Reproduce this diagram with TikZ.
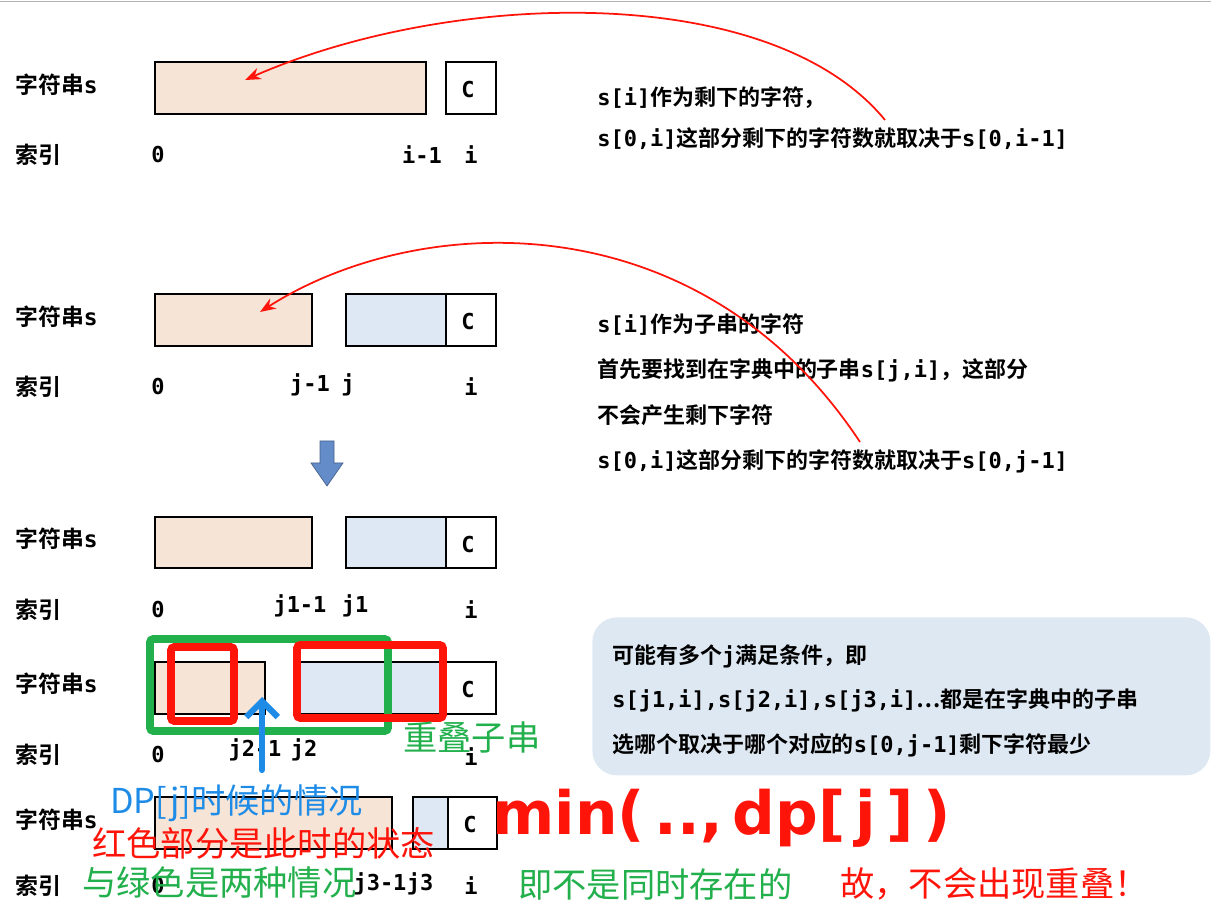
\documentclass[tikz,border=0pt]{standalone}
\usepackage{fontspec}
\setmainfont{Noto Sans CJK SC}[BoldFont={* Bold}]
\setmonofont{DejaVu Sans Mono}
\newfontfamily\handfont{DejaVu Sans}
\newcommand{\mo}[1]{{\ttfamily\bfseries #1}}
\usetikzlibrary{arrows.meta}
\definecolor{peach}{RGB}{246,228,214}
\definecolor{paleblue}{RGB}{222,232,244}
\definecolor{notebg}{RGB}{222,232,242}
\definecolor{hlred}{RGB}{255,20,10}
\definecolor{hlgreen}{RGB}{34,176,76}
\definecolor{hlblue}{RGB}{30,140,230}
\definecolor{arrowblue}{RGB}{100,140,200}
\tikzset{
  cell/.style={draw, line width=1.2pt},
  lbl/.style={font=\bfseries\fontsize{13}{15}\selectfont, anchor=west, inner sep=0pt},
  idx/.style={font=\ttfamily\bfseries\fontsize{12.5}{14}\selectfont, inner sep=0pt},
  note/.style={font=\bfseries\fontsize{12.5}{15}\selectfont, anchor=west, inner sep=0pt},
  remark/.style={font=\fontsize{19.5}{22}\selectfont, anchor=west, inner sep=0pt},
  callout/.style={draw=hlred, line width=1pt, -{Stealth[length=9pt]}},
}
\begin{document}
\begin{tikzpicture}[x=0.02cm, y=-0.02cm]
  \useasboundingbox (0,0) rectangle (1211,918);
  \draw[gray!60] (0,1) -- (1211,1);

  % row 1
  \node[lbl] (s1) at (15,85) {字符串\mo{s}};
  \node[lbl] (k1) at (15,155) {索引};
  \draw[cell, fill=peach] (155,62) rectangle (426,114);
  \draw[cell] (446,62) rectangle (496,114);
  \node[idx] (c1) at (468,90) {C};
  \node[idx] at (158,155) {0};
  \node[idx] at (422,155) {i-1};
  \node[idx] at (471,155) {i};
  \node[note] (t1a) at (597,98) {\mo{s[i]}作为剩下的字符，};
  \node[note] (t1b) at (597,139) {\mo{s[0,i]}这部分剩下的字符数就取决于\mo{s[0,i-1]}};
  \coordinate (a1s) at (885,120);
  \coordinate (a1e) at (245,80);
  \draw[callout] (a1s) .. controls (770,-20) and (450,-10) .. (a1e);

  % row 2
  \node[lbl] (s2) at (15,317) {字符串\mo{s}};
  \node[lbl] (k2) at (15,387) {索引};
  \draw[cell, fill=peach] (155,294) rectangle (312,346);
  \draw[cell, fill=paleblue] (346,294) rectangle (446,346);
  \draw[cell] (446,294) rectangle (496,346);
  \node[idx] at (468,322) {C};
  \node[idx] at (158,387) {0};
  \node[idx] at (310,385) {j-1};
  \node[idx] at (348,385) {j};
  \node[idx] at (471,387) {i};
  \node[note] at (597,325) {\mo{s[i]}作为子串的字符};
  \node[note] at (597,370) {首先要找到在字典中的子串\mo{s[j,i]}，这部分};
  \node[note] at (597,415) {不会产生剩下字符};
  \node[note] at (597,461) {\mo{s[0,i]}这部分剩下的字符数就取决于\mo{s[0,j-1]}};
  \coordinate (a2s) at (860,442);
  \coordinate (a2e) at (260,312);
  \draw[callout] (a2s) .. controls (700,200) and (420,210) .. (a2e);

  % down arrow
  \fill[arrowblue, draw=arrowblue!70!black] (320,441) -- (334,441) -- (334,463) -- (343,463)
    -- (327,486) -- (311,463) -- (320,463) -- cycle;

  % row 3
  \node[lbl] (s3) at (15,539) {字符串\mo{s}};
  \node[lbl] (k3) at (15,610) {索引};
  \draw[cell, fill=peach] (155,517) rectangle (312,568);
  \draw[cell, fill=paleblue] (346,517) rectangle (446,568);
  \draw[cell] (446,517) rectangle (496,568);
  \node[idx] at (468,545) {C};
  \node[idx] at (158,610) {0};
  \node[idx] at (300,606) {j1-1};
  \node[idx] at (355,606) {j1};
  \node[idx] at (471,610) {i};

  % row 4
  \node[lbl] (s4) at (15,684) {字符串\mo{s}};
  \node[lbl] (k4) at (15,755) {索引};
  \draw[cell, fill=peach] (155,662) rectangle (265,714);
  \draw[cell, fill=paleblue] (300,662) rectangle (446,714);
  \draw[cell] (446,662) rectangle (496,714);
  \node[idx] at (468,690) {C};
  \node[idx] at (158,755) {0};
  \node[idx] (j2m) at (255,750) {j2-1};
  \node[idx] at (304,750) {j2};
  \node[idx] at (471,757) {i};
  \draw[hlgreen, line width=4.5pt, rounded corners=2pt] (150,639) rectangle (388,731);
  \draw[hlred, line width=4.5pt, rounded corners=2pt] (171,647) rectangle (234,721);
  \draw[hlred, line width=4.5pt, rounded corners=2pt] (297,645) rectangle (443,718);
  \coordinate (up0) at (262,770);
  \coordinate (up1) at (262,697);
  \draw[hlblue, line width=3.5pt, line cap=round, -{Straight Barb[length=9pt]}] (up0) -- (up1);
  \node[remark, text=hlgreen] (overlap) at (403,737) {重叠子串};

  % note box
  \node[fill=notebg, rounded corners=14pt, minimum width=618*0.02cm, minimum height=158*0.02cm,
        anchor=north west, inner sep=0pt] (box) at (592,617) {};
  \node[note] at (612,656) {可能有多个\mo{j}满足条件，即};
  \node[note] at (612,700) {\mo{s[j1,i],s[j2,i],s[j3,i]}…都是在字典中的子串};
  \node[note] at (612,745) {选哪个取决于哪个对应的\mo{s[0,j-1]}剩下字符最少};

  % row 5
  \node[lbl] (s5) at (15,820) {字符串\mo{s}};
  \node[lbl] (k5) at (15,886) {索引};
  \draw[cell, fill=peach] (155,797) rectangle (392,849);
  \draw[cell, fill=paleblue] (413,797) rectangle (448,849);
  \draw[cell] (448,797) rectangle (497,849);
  \node[idx] at (470,825) {C};
  \node[idx] at (158,886) {0};
  \node[idx] at (380,884) {j3-1};
  \node[idx] at (420,884) {j3};
  \node[idx] at (471,886) {i};

  % remarks
  \node[remark, text=hlblue] at (110,803) {DP[j]时候的情况};
  \node[remark, text=hlred] at (92,843) {红色部分是此时的状态};
  \node[remark, text=hlgreen] at (82,882) {与绿色是两种情况};
  \node[remark, text=hlgreen] at (518,884) {即不是同时存在的};
  \node[remark, text=hlred] at (840,884) {故，不会出现重叠！};
  \node[anchor=west, text=hlred, inner sep=0pt, font=\handfont\bfseries\fontsize{34}{40}\selectfont]
    (minexpr) at (492,818) {min(\,..,\,dp[\,j\,]\,)};
\end{tikzpicture}
\end{document}
